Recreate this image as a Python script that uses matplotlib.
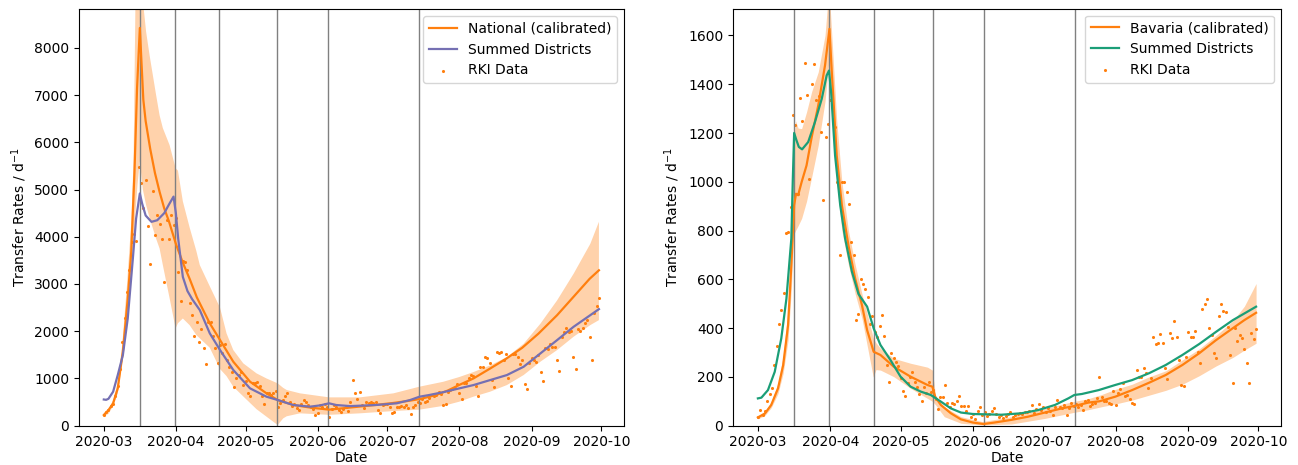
import numpy as np
import pandas as pd
import matplotlib
matplotlib.use("Agg")
import matplotlib.pyplot as plt
import matplotlib.dates as mdates

START = pd.Timestamp("2020-03-01")
ORANGE = "#ff7f0e"
PURPLE = "#7570b3"
GREEN = "#1b9e77"

# change points (days after 2020-03-01), same for both panels
change_days = [15.5, 30.6, 49.5, 74.7, 96.5, 135.4]

# ---- National (left) ----
nat_days = [0, 2, 4, 6, 8.2, 10.3, 11.8, 13.2, 14.3, 15.5, 16.2, 17, 18, 20, 22, 24, 26, 28,
            31, 34, 37, 40, 41.3, 45.6, 50, 55.7, 62.9, 70, 74.8, 81.5, 88.7, 96.9, 103, 110,
            117, 124, 131, 136, 143, 148, 153, 159, 166, 173, 180, 187, 195, 202, 209, 213]
nat_vals = [226, 330, 473, 790, 1566, 2694, 3682, 5374, 7138, 8420, 7700, 6900, 6450, 5850,
            5350, 4950, 4600, 4330, 3850, 3450, 3100, 2720, 2590, 2166, 1814, 1355, 932, 685,
            544, 438, 385, 340, 370, 405, 440, 478, 525, 565, 650, 745, 865, 1000, 1205, 1415,
            1650, 1950, 2340, 2725, 3110, 3290]

nat_sum_days = [0, 1, 2, 4, 6, 8.2, 10.3, 12.5, 13.9, 15.5, 16.5, 18, 20.5, 23, 26, 28, 30,
                31, 32, 34, 36, 38, 41.3, 45.6, 50, 55.7, 62.9, 70, 74.8, 81.5, 88.7, 93, 96.9,
                100, 106, 117, 126, 131.8, 135.8, 140, 146, 152.9, 159, 166.2, 173.4, 180.6,
                187.8, 195, 202.1, 209.3, 213]
nat_sum_vals = [555, 548, 570, 719, 1072, 1495, 2271, 3540, 4387, 4916, 4700, 4450, 4316, 4350,
                4500, 4680, 4850, 4500, 3960, 3150, 2850, 2680, 2448, 1955, 1602, 1179, 791,
                614, 544, 438, 403, 430, 474, 438, 415, 438, 474, 544, 614, 650, 710, 790, 860,
                966, 1072, 1248, 1530, 1812, 2094, 2341, 2468]

nat_band_days = [0, 2, 4, 6, 8, 10, 11.8, 12.8, 13.6, 14.5, 15.5, 16.8, 18.2, 19.7, 22.5, 24,
                 25.4, 28.3, 30.9, 31.9, 34, 36.9, 39.8, 41.3, 45.6, 50, 52.8, 55.7, 60, 65.7,
                 70, 74.8, 77.2, 78.7, 84.4, 96.9, 110.2, 124.6, 135.8, 146.1, 152.9, 159,
                 166.2, 173.4, 180.6, 187.8, 195, 202.1, 209.3, 213]
nat_band_hi = [265, 340, 540, 900, 1750, 3000, 4300, 5600, 8900, 9800, 10500, 9000, 8340, 7840,
               7000, 6570, 6300, 5940, 5450, 5400, 4750, 4200, 3700, 3400, 2950, 2500, 1955,
               1602, 1320, 1108, 1000, 897, 800, 756, 685, 600, 600, 685, 826, 931, 1030, 1135,
               1276, 1452, 1734, 2158, 2652, 3216, 3851, 4317]
nat_band_lo = [195, 250, 410, 680, 1350, 2350, 3100, 3800, 4500, 5100, 5600, 5000, 4670, 4400,
               3960, 3750, 3400, 2700, 2060, 2170, 2270, 2130, 1920, 1850, 1650, 1200, 1050,
               826, 620, 350, 191, 15, 156, 200, 262, 230, 262, 310, 340, 420, 508, 614, 720,
               860, 1072, 1354, 1601, 1883, 2130, 2235]

nat_rki = [230, 280, 330, 420, 450, 620, 850, 1200, 1770, 2270,
           2830, 3300, 3880, 4050, 3900, 5480, 5140, 4600, 5200, 4230,
           3430, 4960, 4030, 4470, 4260, 3950, 3050, 4350, 3950, 4450,
           4250, 4400, 3260, 2640, 3480, 3460, 3290, 2600, 2340, 1900,
           2200, 1780, 2050, 1650, 1300, 2200, 2200, 1900, 1640, 1320,
           1710, 1530, 1730, 1400, 1250, 1140, 810, 1000, 1070, 1140,
           860, 950, 690, 620, 900, 900, 930, 830, 620, 470,
           690, 700, 650, 700, 740, 400, 480, 540, 630, 690,
           510, 420, 460, 370, 330, 450, 540, 510, 440, 400,
           350, 230, 260, 440, 400, 460, 390, 190, 350, 440,
           400, 330, 280, 350, 400, 320, 510, 970, 690, 560,
           720, 440, 370, 510, 490, 510, 490, 510, 330, 260,
           440, 450, 470, 400, 260, 300, 390, 400, 420, 400,
           440, 370, 250, 400, 440, 500, 490, 560, 510, 530,
           580, 650, 620, 650, 720, 670, 440, 450, 720, 760,
           780, 800, 880, 700, 570, 900, 910, 1020, 1070, 1050,
           840, 630, 1250, 1240, 1460, 1430, 1330, 970, 810, 1550,
           1530, 1570, 1390, 1510, 1020, 830, 1520, 1520, 1460, 1310,
           1400, 880, 770, 1320, 1440, 1390, 1340, 1500, 1140, 950,
           1650, 1620, 1730, 1670, 1660, 1390, 1160, 1880, 1990, 2060,
           1980, 2000, 1460, 1200, 2040, 2010, 2070, 2170, 2240, 1880,
           1390, 2380, 2530, 2700]

# ---- Bavaria (right) ----
bav_days = [0, 3, 5.7, 8.6, 10.8, 12.9, 14.3, 15.5, 16.3, 17.2, 18.7, 20.8, 23, 25.8, 28.7,
            30.6, 31.6, 33.7, 35.9, 38.7, 41.6, 44.5, 46.7, 49.5, 52.4, 58.1, 65.3, 72.5, 74.6,
            75.8, 78.2, 82.5, 86.8, 91.9, 96.4, 101.2, 108.4, 115.5, 122.7, 129.9, 135.3,
            141.4, 146, 152.8, 160, 167.2, 174.4, 181.5, 188.7, 195.9, 203.1, 208, 213]
bav_vals = [34, 50, 85, 153, 248, 412, 658, 904, 951, 945, 999, 1067, 1183, 1313, 1477, 1627,
            1450, 1108, 904, 740, 603, 494, 392, 303, 290, 242, 201, 167, 160, 119, 85, 51, 26,
            13, 7, 13, 24, 37, 54, 71, 81, 95, 100, 119, 146, 176, 208, 249, 297, 351, 400,
            433, 463]

bav_sum_days = [0, 1.5, 4.3, 7.2, 10, 12.2, 14.3, 14.9, 15.5, 16.5, 17.5, 18.9, 21.5, 24.4,
                27.3, 29.4, 30.4, 31.3, 33, 35.2, 37.3, 40.2, 43, 46.7, 49.5, 52.4, 56.7, 61,
                65.3, 69.6, 73.9, 78.2, 82.5, 86.8, 91.9, 96, 104.1, 112.7, 119.8, 127, 132.7,
                135.3, 138.5, 145.7, 152.8, 160, 167.2, 174.4, 181.5, 188.7, 195.9, 203.1, 213]
bav_sum_vals = [112, 115, 146, 221, 358, 521, 767, 1000, 1200, 1170, 1143, 1133, 1163, 1245,
                1340, 1436, 1456, 1368, 1108, 904, 767, 631, 540, 488, 399, 331, 269, 201, 160,
                140, 126, 99, 71, 54, 48, 47, 45, 51, 64, 85, 112, 126, 130, 146, 167, 187, 215,
                249, 290, 335, 385, 433, 488]

bav_band_days = [0, 3, 5.7, 8.6, 10.8, 12.9, 14.3, 15.2, 16.1, 17.2, 18.7, 20.8, 23, 25.8,
                 28.7, 30.4, 31.6, 33.7, 35.9, 38.7, 41.6, 44.5, 46.7, 49.3, 50.5, 52.4, 58.1,
                 65.3, 72.5, 74.6, 76, 79.7, 86.8, 95.9, 108.4, 122.7, 134.8, 141, 147, 152.8,
                 160, 167.2, 174.4, 181.5, 188.7, 195.9, 203.1, 208, 213]
bav_band_hi = [40, 58, 98, 175, 285, 480, 800, 1150, 1250, 1220, 1218, 1286, 1370, 1450, 1600,
               1800, 1600, 1250, 1000, 800, 660, 540, 460, 360, 340, 317, 276, 256, 240, 228,
               119, 78, 37, 17, 37, 71, 99, 110, 128, 149, 170, 200, 225, 270, 315, 370, 430,
               490, 583]
bav_band_lo = [28, 42, 74, 132, 215, 350, 560, 780, 800, 820, 850, 920, 1020, 1150, 1330, 1500,
               1290, 1000, 800, 660, 540, 440, 330, 200, 230, 228, 201, 153, 112, 100, 85, 37,
               10, 3, 7, 30, 54, 65, 78, 89, 105, 125, 145, 170, 205, 245, 280, 310, 338]

bav_rki = [35, 64, 45, 60, 100, 132, 153, 250, 326, 415,
           474, 546, 788, 794, 897, 1275, 1231, 951, 1343, 1248,
           1488, 1354, 1010, 1399, 1484, 1334, 1350, 1204, 927, 1183,
           1238, 1336, 1259, 1224, 999, 699, 1000, 999, 958, 910,
           753, 700, 433, 460, 600, 583, 562, 528, 419, 450,
           385, 365, 410, 454, 369, 250, 178, 297, 276, 260,
           246, 194, 142, 122, 174, 200, 221, 180, 160, 130,
           103, 157, 135, 180, 140, 146, 110, 67, 119, 116,
           167, 92, 75, 95, 90, 103, 122, 81, 81, 60,
           81, 37, 50, 28, 60, 75, 44, 55, 41, 48,
           60, 74, 50, 37, 45, 30, 40, 48, 55, 37,
           45, 48, 54, 48, 55, 58, 62, 85, 51, 70,
           88, 65, 78, 58, 71, 60, 44, 78, 105, 78,
           71, 85, 44, 71, 92, 82, 90, 78, 85, 65,
           101, 105, 81, 89, 92, 112, 200, 116, 103, 103,
           95, 88, 144, 85, 133, 150, 174, 122, 126, 108,
           95, 88, 228, 198, 201, 235, 215, 153, 194, 365,
           335, 340, 376, 338, 235, 190, 379, 361, 429, 362,
           269, 167, 163, 283, 385, 365, 365, 388, 301, 256,
           477, 499, 519, 399, 370, 297, 279, 450, 501, 471,
           467, 406, 290, 174, 399, 348, 372, 358, 313, 256,
           174, 380, 354, 395]


def to_dates(days):
    return START + pd.to_timedelta(np.asarray(days, dtype=float), unit="D")


def draw_panel(ax, line_days, line_vals, line_label, sum_days, sum_vals, sum_color,
               band_days, band_lo, band_hi, rki, ymax):
    ax.fill_between(to_dates(band_days), band_lo, band_hi, color=ORANGE, alpha=0.35, lw=0)
    for d in change_days:
        ax.axvline(to_dates([d])[0], color="grey", lw=1)
    ax.plot(to_dates(line_days), line_vals, color=ORANGE, lw=1.6, label=line_label)
    ax.plot(to_dates(sum_days), sum_vals, color=sum_color, lw=1.6, label="Summed Districts")
    ax.scatter(to_dates(np.arange(len(rki))), rki, s=5, color=ORANGE, lw=0, label="RKI Data")

    ax.set_xlim(to_dates([-10.65, 223.65]))
    ax.set_ylim(0, ymax)
    ax.xaxis.set_major_locator(mdates.MonthLocator())
    ax.xaxis.set_major_formatter(mdates.DateFormatter("%Y-%m"))
    ax.tick_params(labelsize=10)
    ax.set_xlabel("Date", fontsize=10, labelpad=1)
    ax.set_ylabel("Transfer Rates / d$^{-1}$", fontsize=10)
    ax.legend(loc="upper right", fontsize=10)


fig = plt.figure(figsize=(12.98, 4.65), dpi=100)
ax1 = fig.add_axes([0.0609, 0.0845, 0.4196, 0.896])
ax2 = fig.add_axes([0.5647, 0.0845, 0.4222, 0.897])

draw_panel(ax1, nat_days, nat_vals, "National (calibrated)", nat_sum_days, nat_sum_vals, PURPLE,
           nat_band_days, nat_band_lo, nat_band_hi, nat_rki, 8820)
draw_panel(ax2, bav_days, bav_vals, "Bavaria (calibrated)", bav_sum_days, bav_sum_vals, GREEN,
           bav_band_days, bav_band_lo, bav_band_hi, bav_rki, 1710)

fig.savefig("out.png", dpi=100)
